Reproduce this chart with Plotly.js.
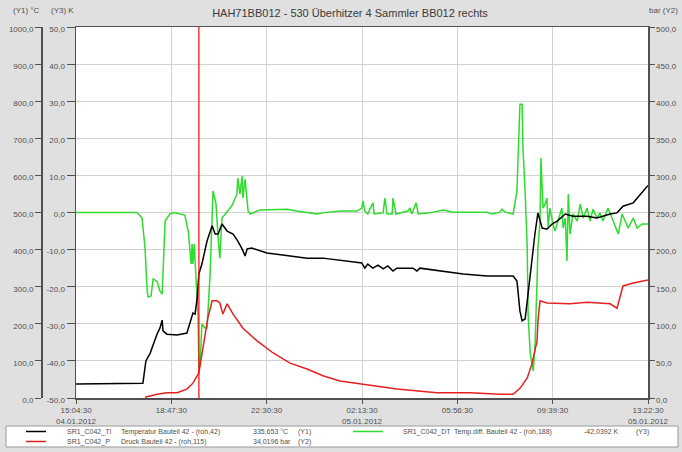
<!DOCTYPE html>
<html>
<head>
<meta charset="utf-8">
<script src="https://cdn.plot.ly/plotly-3.0.1.min.js"></script>
<style>html,body{margin:0;padding:0;background:#e0e0e0;}#chart{width:682px;height:452px;}</style>
</head>
<body>
<div id="chart"></div>
<script>
// ---------- data ----------
const tempTimes = ['15:04:30','17:39','17:41','17:48','17:58','18:14','18:21','18:26','18:28','18:37','19:01','19:24','19:31','19:38','19:43','19:48','19:52','19:59','20:11','20:23','20:30','20:37','20:46','20:58','21:12','21:23','21:33','21:40','21:45','21:56','22:31','23:25','00:05','00:42','01:22','01:45','02:13','02:20','02:27','02:39','02:51','03:03','03:14','03:26','03:35','04:13','04:22','04:29','05:16','06:10','07:06','08:07','08:16','08:23','08:28','08:35','08:40','08:47','08:58','09:05','09:15','09:26','09:38','09:50','10:09','10:27','11:00','11:23','11:54','12:10','12:24','12:48','13:22:30'];
const tempC = [38,38,40,100,121,172,189,210,181,172,170,175,199,229,226,270,335,361,423,464,442,442,469,450,442,423,402,383,402,404,391,383,377,377,372,369,364,350,361,350,358,348,356,342,350,350,342,350,342,334,329,329,315,234,208,213,261,334,442,499,458,455,469,477,496,490,490,485,496,499,517,526,573];

const pressTimes = ['17:46','18:14','18:37','19:01','19:24','19:38','19:52','20:06','20:13','20:23','20:34','20:41','20:48','20:58','21:12','21:35','22:08','22:45','23:25','00:05','00:42','01:22','02:09','03:35','05:09','06:26','07:36','08:07','08:23','08:40','08:51','09:03','09:05','09:10','09:26','10:20','11:00','11:54','12:10','12:24','12:48','13:22:30'];
const pressBar = [1,5,7,7,12,20,34,81,108,131,131,128,113,127,113,94,77,61,47,39,30,23,19,12,7,7,5,5,13,27,46,77,104,131,128,127,129,127,121,151,155,159];

const diffTimes = ['15:04:30','17:27','17:39','17:46','17:51','17:53','18:00','18:05','18:14','18:21','18:26','18:33','18:44','18:56','19:08','19:19','19:27','19:34','19:36','19:38','19:41','19:45','19:50','19:52','19:55','19:59','20:06','20:11','20:18','20:25','20:32','20:37','20:41','20:46','20:58','21:09','21:21','21:23','21:28','21:33','21:35','21:40','21:47','21:52','22:15','23:09','23:18','23:41','00:05','00:28','00:42','01:22','02:02','02:13','02:16','02:20','02:27','02:39','02:42','03:03','03:07','03:12','03:24','03:26','03:33','04:01','04:06','04:10','04:20','04:25','04:53','05:23','05:46','07:06','07:18','07:36','07:41','07:48','08:07','08:16','08:18','08:23','08:28','08:30','08:35','08:40','08:42','08:47','08:54','08:58','09:03','09:05','09:10','09:12','09:17','09:22','09:26','09:29','09:33','09:40','09:45','09:52','10:01','10:04','10:09','10:13','10:16','10:20','10:27','10:37','10:44','10:51','11:00','11:07','11:14','11:23','11:30','11:37','11:49','12:01','12:13','12:22','12:29','12:36','12:48','12:57','13:09','13:22:30'];
const diffK = [0,0,-1.5,-9.6,-21.2,-22.8,-22.5,-17.9,-18.5,-21.2,-22.0,-2.3,-0.4,0,-0.4,-0.7,-5.0,-13.9,-8.5,-13.9,-8.5,-15.8,-28,-42,-40.6,-30.0,-31.1,-31.1,-17.1,5.8,2.3,-6.9,-12.3,-1.5,0.4,1.8,5.0,9.3,5.0,9.8,3.9,9.0,0.4,-0.4,0.7,0.7,0.9,0.4,-0.1,-0.4,-0.1,0.4,0.4,1.2,3.1,0.4,-0.4,2.6,-0.4,-0.1,3.9,-0.4,-0.4,3.9,-0.4,0.4,1.2,-0.4,2.6,-0.4,-0.1,0.7,0.1,0.1,-0.4,0.1,0.9,0.1,-0.4,5.8,13.1,29.2,29.2,17.4,5.8,-9.6,-27.4,-38.1,-42.7,-36.5,-18.5,-9.6,-2.3,14.7,1.2,2.3,3.9,-4.2,1.2,-3.1,-5.0,-2.3,1.2,-4.2,-1.5,-13.1,5.0,-5.8,-0.4,-2.3,2.3,-1.5,1.2,-2.3,0.9,-1.5,-0.1,-2.3,1.2,-2.3,-5.8,-0.4,-2.3,-4.2,-1.5,-4.2,-3.1,-3.1];

const cursorTime = '19:52';
const xTickTimes = ['15:04:30','18:47:30','22:30:30','02:13:30','05:56:30','09:39:30','13:22:30'];
const xTickLabels = ['15:04:30<br>04.01.2012','18:47:30','22:30:30','02:13:30<br>05.01.2012','05:56:30','09:39:30','13:22:30<br>05.01.2012'];
const y1Ticks = [0,100,200,300,400,500,600,700,800,900,1000];
const y2Ticks = [0,50,100,150,200,250,300,350,400,450,500];
const y3Ticks = [-50,-40,-30,-20,-10,0,10,20,30,40,50];

const titleText = 'HAH71BB012 - 530 Überhitzer 4 Sammler BB012 rechts';
const legendRows = [
  {tag:'SR1_C042_TI', desc:'Temperatur Bauteil 42 - (roh,42)', val:'335,653 °C', ax:'(Y1)'},
  {tag:'SR1_C042_P', desc:'Druck Bauteil 42 - (roh,115)', val:'34,0196 bar', ax:'(Y2)'},
  {tag:'SR1_C042_DT', desc:'Temp.diff. Bauteil 42 - (roh,188)', val:'-42,0392 K', ax:'(Y3)'}
];

// ---------- helpers ----------
function toDate(t){
  const h = parseInt(t.slice(0,2),10);
  const full = t.length === 5 ? t + ':00' : t;
  return (h >= 14 ? '2012-01-04 ' : '2012-01-05 ') + full;
}
function fmt(v){ return v.toFixed(1).replace('.', ','); }

const W = 682, H = 452, ML = 10, MR = 34, MT = 27, MB = 54;
const PW = W - ML - MR, PH = H - MT - MB;
function px(x){ return (x - ML) / PW; }
function py(y){ return (H - MB - y) / PH; }

const axisColor = '#505050';
const tickFont = {family:'Liberation Sans, Arial, sans-serif', size:8, color:'#505050'};
const gridColor = '#d2d2d2';

const traces = [
  {x: tempTimes.map(toDate), y: tempC, yaxis:'y3', mode:'lines', line:{color:'#000000', width:1.5}, name:'SR1_C042_TI'},
  {x: pressTimes.map(toDate), y: pressBar, yaxis:'y2', mode:'lines', line:{color:'#e62020', width:1.5}, name:'SR1_C042_P'},
  {x: diffTimes.map(toDate), y: diffK, yaxis:'y', mode:'lines', line:{color:'#2edc2e', width:1.5}, name:'SR1_C042_DT'}
];

const shapes = [
  {type:'line', xref:'x', yref:'paper', x0:toDate(cursorTime), x1:toDate(cursorTime), y0:0, y1:1, line:{color:'#ff0000', width:1.2}},
  {type:'rect', xref:'paper', yref:'paper', x0:px(6), x1:px(678), y0:py(447), y1:py(426), fillcolor:'#ffffff', line:{color:'#9a9a9a', width:1}, layer:'below'},
  {type:'line', xref:'paper', yref:'paper', x0:px(26), x1:px(46), y0:py(431.5), y1:py(431.5), line:{color:'#000000', width:1.5}},
  {type:'line', xref:'paper', yref:'paper', x0:px(26), x1:px(46), y0:py(441.5), y1:py(441.5), line:{color:'#e62020', width:1.5}},
  {type:'line', xref:'paper', yref:'paper', x0:px(353), x1:px(383), y0:py(431.5), y1:py(431.5), line:{color:'#2edc2e', width:1.5}}
];

const annFont = {family:'Liberation Sans, Arial, sans-serif', size:7, color:'#505050'};
const hdrFont = {family:'Liberation Sans, Arial, sans-serif', size:8, color:'#505050'};
const annotations = [];
function addText(text, x, y, anchor, font){
  annotations.push({text:text, xref:'paper', yref:'paper', x:px(x), y:py(y), xanchor:anchor||'left', yanchor:'middle', showarrow:false, font:font||annFont});
}
addText('(Y1) °C', 42, 11, 'right', hdrFont);
addText('(Y3) K', 76, 11, 'right', hdrFont);
addText('bar (Y2)', 647, 11, 'left', hdrFont);
const rowCols = [[65,119,251,296],[65,119,251,296],[401,452,582,634]];
const rowYs = [431.5, 441.5, 431.5];
legendRows.forEach((r,i)=>{
  const c = rowCols[i], y = rowYs[i];
  addText(r.tag, c[0], y); addText(r.desc, c[1], y); addText(r.val, c[2], y); addText(r.ax, c[3], y);
});

const layout = {
  width: W, height: H,
  margin: {l:ML, r:MR, t:MT, b:MB, pad:0},
  paper_bgcolor:'#e0e0e0', plot_bgcolor:'#ffffff',
  showlegend:false,
  font:{family:'Liberation Sans, Arial, sans-serif', size:8, color:'#505050'},
  title:{text:titleText, xref:'container', yref:'container', x:350/W, xanchor:'center', y:1-13/H, yanchor:'middle', font:{family:'Liberation Sans, Arial, sans-serif', size:11, color:'#3a3a3a'}},
  xaxis:{
    type:'date', domain:[px(76),1], range:[toDate('15:04:30'), toDate('13:22:30')],
    tickmode:'array', tickvals:xTickTimes.map(toDate), ticktext:xTickLabels,
    showgrid:true, gridcolor:gridColor, gridwidth:1,
    showline:true, linecolor:axisColor, linewidth:1.5, mirror:true,
    ticks:'outside', ticklen:4, tickcolor:axisColor, tickfont:tickFont,
    zeroline:false, automargin:false, fixedrange:true
  },
  yaxis:{
    range:[-50,50], tickmode:'array', tickvals:y3Ticks, ticktext:y3Ticks.map(fmt),
    showgrid:true, gridcolor:gridColor, gridwidth:1,
    showline:true, linecolor:axisColor, linewidth:1.5, mirror:true,
    ticks:'outside', ticklen:8, tickcolor:axisColor, tickfont:tickFont, ticklabelshift:2,
    zeroline:false, automargin:false
  },
  yaxis2:{
    overlaying:'y', side:'right', anchor:'x', range:[0,500],
    tickmode:'array', tickvals:y2Ticks, ticktext:y2Ticks.map(fmt),
    showgrid:false, showline:true, linecolor:axisColor, linewidth:1.5,
    ticks:'outside', ticklen:5, tickcolor:axisColor, tickfont:tickFont, ticklabelshift:2,
    zeroline:false, automargin:false
  },
  yaxis3:{
    overlaying:'y', side:'left', anchor:'free', position:px(42), range:[0,1000],
    tickmode:'array', tickvals:y1Ticks, ticktext:y1Ticks.map(fmt),
    showgrid:false, showline:true, linecolor:axisColor, linewidth:2,
    ticks:'outside', ticklen:6, tickcolor:axisColor, tickfont:tickFont, ticklabelshift:2,
    zeroline:false, automargin:false
  },
  shapes: shapes,
  annotations: annotations
};

Plotly.newPlot('chart', traces, layout, {staticPlot:true, displayModeBar:false});
</script>
</body>
</html>
